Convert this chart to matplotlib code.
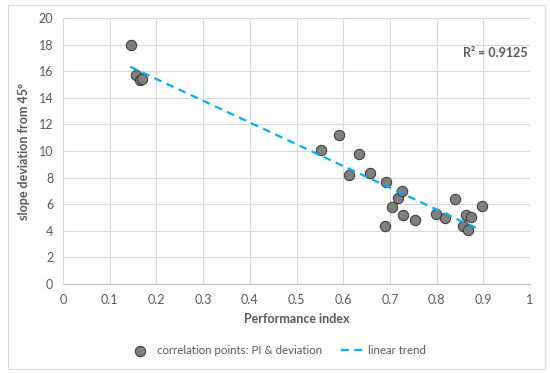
import numpy as np
import matplotlib
matplotlib.use("Agg")
from matplotlib import pyplot as plt
from matplotlib.patches import Rectangle

# Performance index vs slope deviation
pi_values = [0.146, 0.157, 0.164, 0.169, 0.553, 0.591, 0.613, 0.634, 0.657,
             0.692, 0.690, 0.704, 0.718, 0.726, 0.729, 0.754, 0.799, 0.817,
             0.839, 0.856, 0.864, 0.868, 0.874, 0.898]
deviation = [18.0, 15.75, 15.33, 15.4, 10.09, 11.24, 8.2, 9.79, 8.36,
             7.65, 4.37, 5.82, 6.47, 7.0, 5.22, 4.84, 5.24, 4.99,
             6.37, 4.37, 5.19, 4.09, 5.04, 5.87]
trend_range = [0.144, 0.889]
r2_text = "R² = 0.9125"

plt.rcParams['font.family'] = ['Lato', 'DejaVu Sans']
grey_txt = '#595959'

fig = plt.figure(figsize=(5.5, 3.74), dpi=100)
W, H = 550, 374
# plot area in pixels: left 63, right 530, top 18, bottom 284
ax = fig.add_axes([63 / W, 1 - 284 / H, (530 - 63) / W, (284 - 18) / H])

# outer chart border
fig.patches.append(Rectangle((8 / W, 1 - 369 / H), (545 - 8) / W, (369 - 5) / H,
                             transform=fig.transFigure, fill=False,
                             edgecolor='#d9d9d9', linewidth=0.8))

x = np.array(pi_values)
y = np.array(deviation)
slope, intercept = np.polyfit(x, y, 1)
xt = np.array(trend_range)

ax.scatter(x, y, s=55, color='#7f7f7f', edgecolor='#404040', linewidth=0.8,
           zorder=3, label='correlation points: PI & deviation')
ax.plot(xt, slope * xt + intercept, color='#00b0f0', linestyle=(0, (3.5, 2.5)),
        linewidth=1.6, zorder=4, label='linear trend')

ax.set_xlim(0, 1)
ax.set_ylim(0, 20)
ax.set_xticks(np.arange(0, 1.01, 0.1))
ax.set_xticklabels(['0', '0.1', '0.2', '0.3', '0.4', '0.5', '0.6', '0.7', '0.8', '0.9', '1'])
ax.set_yticks(np.arange(0, 21, 2))
ax.grid(True, color='#d9d9d9', linewidth=0.8)
ax.set_axisbelow(True)
for s in ['top', 'right', 'left']:
    ax.spines[s].set_visible(False)
ax.spines['bottom'].set_color('#bfbfbf')
ax.tick_params(length=0, labelsize=9, colors=grey_txt, pad=7)

ax.set_xlabel('Performance index', fontsize=9, fontweight='bold', color=grey_txt, labelpad=5)
ax.set_ylabel('slope deviation from 45°', fontsize=9, fontweight='bold', color=grey_txt, labelpad=6)

ax.text(0.995, 17.35, r2_text, fontsize=9, fontweight='bold', color=grey_txt,
        ha='right', va='center')

fig.legend(loc='center', bbox_to_anchor=(0.505, 1 - 351 / H), ncol=2, frameon=False,
           fontsize=8.3, labelcolor=grey_txt, handlelength=1.9, columnspacing=1.6,
           handletextpad=0.5)

fig.savefig('out.png', dpi=100)
